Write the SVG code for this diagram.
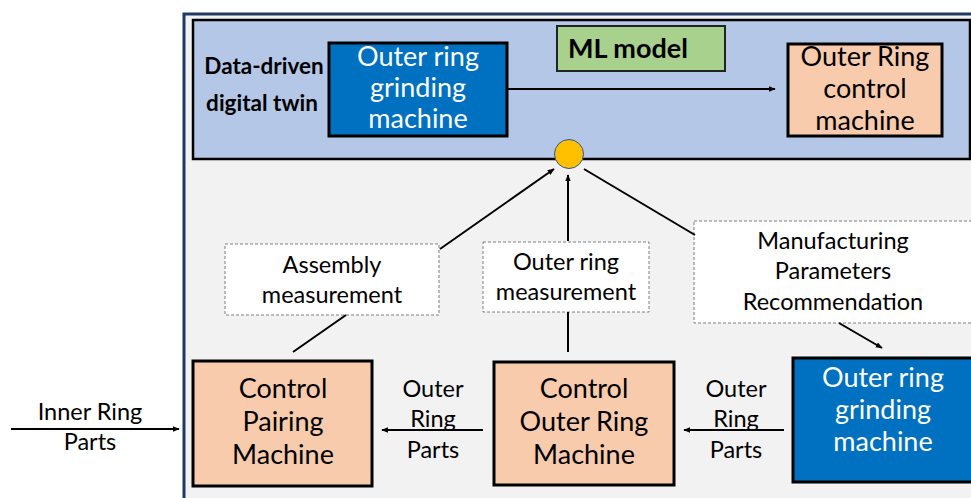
<svg xmlns="http://www.w3.org/2000/svg" width="971" height="498" viewBox="0 0 971 498">
<defs>
<marker id="ah" viewBox="0 0 10 10" refX="9" refY="5" markerWidth="7" markerHeight="7" markerUnits="userSpaceOnUse" orient="auto">
<path d="M0,1 L10,5 L0,9 z" fill="#000"/>
</marker>
<style>
text{font-family:Lato,"Open Sans","Liberation Sans",sans-serif;text-anchor:middle;}
.big{font-size:27px;}
.mid{font-size:23.5px;fill:#000;}
.w{fill:#fff;}
.k{fill:#000;}
.peach{fill:#f8cbad;stroke:#000;stroke-width:3;}
.blue{fill:#0070c0;stroke:#000;stroke-width:3;}
.lab{fill:#fff;stroke:#7f7f7f;stroke-width:1;stroke-dasharray:3,2;}
.con{stroke:#000;stroke-width:2;fill:none;}
.bold{font-weight:bold;}
</style>
</defs>
<rect width="971" height="498" fill="#fff"/>
<rect id="frame" x="184" y="14" width="800" height="500" fill="#f2f2f2" stroke="#1f3864" stroke-width="3"/>
<g id="twin">
<rect x="193" y="20" width="777" height="139" fill="#b4c7e7" stroke="#000" stroke-width="2.5"/>
<text class="k bold" x="264" y="74" style="font-size:22.5px">Data-driven</text>
<text class="k bold" x="262" y="111" style="font-size:22.5px">digital twin</text>
</g>
<g id="ml">
<rect x="557" y="26" width="168" height="45" fill="#a9d18e" stroke="#222" stroke-width="2"/>
<text class="k bold" x="628" y="58" style="font-size:27px">ML model</text>
</g>
<g id="grind_top">
<rect class="blue" x="329" y="43" width="178" height="93"/>
<text class="big w" x="418" y="66">Outer ring</text>
<text class="big w" x="418" y="97">grinding</text>
<text class="big w" x="418" y="128">machine</text>
</g>
<g id="orcm">
<rect class="peach" x="788" y="44" width="154" height="92"/>
<text class="big k" x="865" y="66">Outer Ring</text>
<text class="big k" x="865" y="98">control</text>
<text class="big k" x="865" y="130">machine</text>
</g>
<g id="hub">
<circle cx="569" cy="154" r="14.5" fill="#ffc000" stroke="#2f5597" stroke-width="1"/>
</g>
<g id="lab_asm">
<rect class="lab" x="225" y="244" width="214" height="71"/>
<text class="mid" x="332" y="273">Assembly</text>
<text class="mid" x="332" y="303">measurement</text>
</g>
<g id="lab_orm">
<rect class="lab" x="483" y="242" width="166" height="70"/>
<text class="mid" x="566" y="270">Outer ring</text>
<text class="mid" x="566" y="300">measurement</text>
</g>
<g id="lab_mpr">
<rect class="lab" x="694" y="221" width="290" height="102"/>
<text class="mid" x="833" y="249">Manufacturing</text>
<text class="mid" x="833" y="279">Parameters</text>
<text class="mid" x="833" y="310">Recommendation</text>
</g>
<g id="cpm">
<rect class="peach" x="193" y="361" width="179" height="125"/>
<text class="big k" x="283" y="398">Control</text>
<text class="big k" x="283" y="431">Pairing</text>
<text class="big k" x="283" y="464">Machine</text>
</g>
<g id="corm">
<rect class="peach" x="494" y="362" width="180" height="123"/>
<text class="big k" x="584" y="398">Control</text>
<text class="big k" x="584" y="431">Outer Ring</text>
<text class="big k" x="584" y="464">Machine</text>
</g>
<g id="grind_bot">
<rect class="blue" x="793" y="358" width="190" height="124"/>
<text class="big w" x="883" y="387">Outer ring</text>
<text class="big w" x="883" y="419">grinding</text>
<text class="big w" x="883" y="451">machine</text>
</g>
<g id="connectors">
<line class="con" x1="507" y1="89" x2="775" y2="89" marker-end="url(#ah)"/>
<line class="con" x1="440" y1="249" x2="554" y2="169" marker-end="url(#ah)"/>
<line class="con" x1="568" y1="241" x2="568" y2="175" marker-end="url(#ah)"/>
<line class="con" x1="584" y1="169" x2="695" y2="235"/>
<line class="con" x1="346" y1="315" x2="293" y2="352"/>
<line class="con" x1="568" y1="312" x2="568" y2="352"/>
<line class="con" x1="839" y1="323" x2="882" y2="348" marker-end="url(#ah)"/>
<line class="con" x1="11" y1="429" x2="179" y2="429" marker-end="url(#ah)"/>
<line class="con" x1="483" y1="430" x2="382" y2="430" marker-end="url(#ah)"/>
<line class="con" x1="784" y1="430" x2="684" y2="430" marker-end="url(#ah)"/>
<text class="mid" x="90" y="420">Inner Ring</text>
<text class="mid" x="90" y="450">Parts</text>
<text class="mid" x="433" y="397">Outer</text>
<text class="mid" x="433" y="427">Ring</text>
<text class="mid" x="433" y="458">Parts</text>
<text class="mid" x="736" y="397">Outer</text>
<text class="mid" x="736" y="427">Ring</text>
<text class="mid" x="736" y="458">Parts</text>
</g>
</svg>
